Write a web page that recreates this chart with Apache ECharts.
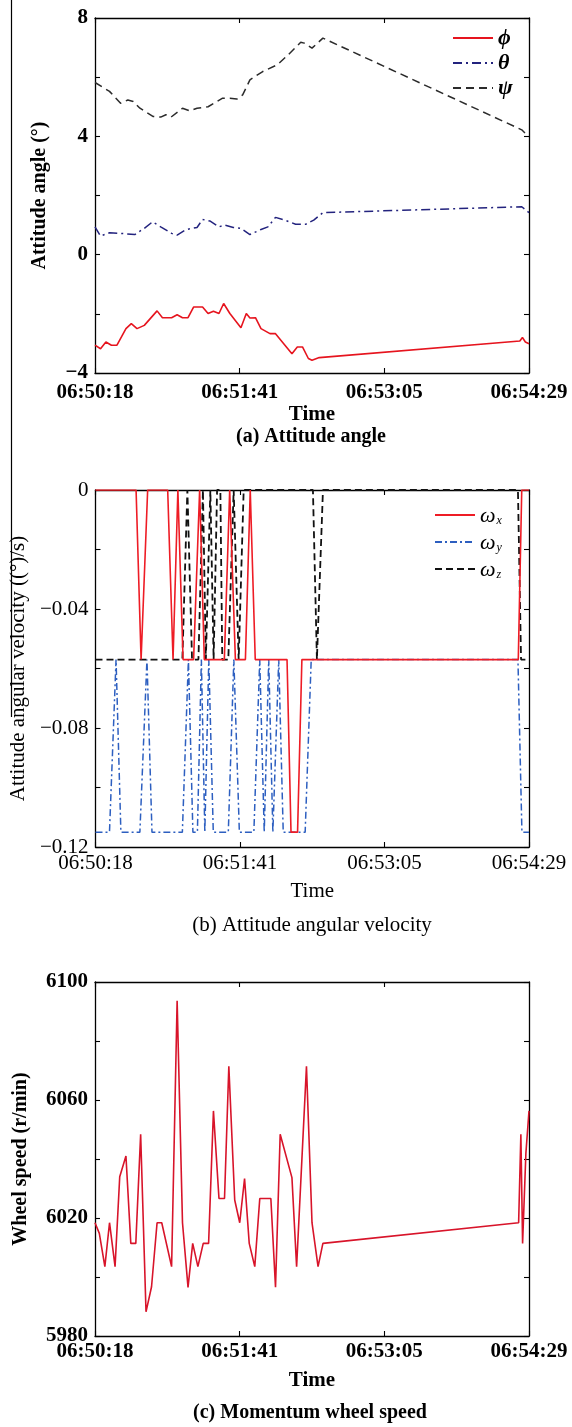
<!DOCTYPE html>
<html>
<head>
<meta charset="utf-8">
<script src="https://cdn.jsdelivr.net/npm/echarts@6/dist/echarts.min.js"></script>
<style>
html,body{margin:0;padding:0;background:#fff;}
#c{width:572px;height:1427px;}
</style>
</head>
<body>
<div id="c"></div>
<script>
// ---------- shared axis data ----------
const tMax = 251; // seconds from 06:50:18 to 06:54:29
const xTickLabels = ['06:50:18', '06:51:41', '06:53:05', '06:54:29'];

// ---------- (a) Attitude angle ----------
const yTicksA = [-4, 0, 4, 8];
const yLabelsA = ['−4', '0', '4', '8'];
const phiT = [0, 3.2, 6.3, 9.5, 12.7, 17.9, 21, 24.3, 28.5, 35.9, 39, 44.3, 47.5, 50.6, 53.8, 57, 62.2, 65.4, 68.5, 71.7, 74.4, 78, 84.4, 87.5, 89.6, 92.8, 96, 101.2, 104.4, 113.9, 117, 120, 123.4, 125.5, 129.7, 245.7, 247.2, 248.9, 251];
const phiV = [-3.06, -3.18, -2.95, -3.06, -3.06, -2.50, -2.33, -2.50, -2.39, -1.90, -2.13, -2.13, -2.03, -2.13, -2.13, -1.77, -1.77, -1.99, -1.91, -1.99, -1.65, -1.99, -2.47, -1.99, -2.14, -2.13, -2.50, -2.67, -2.67, -3.35, -3.12, -3.12, -3.51, -3.57, -3.48, -2.92, -2.80, -2.95, -3.01];
const thetaT = [0, 3.2, 8.4, 14.8, 23, 28.5, 33.3, 38, 44.3, 47.5, 52.7, 59, 62.2, 66.4, 71.7, 74.9, 80, 84.4, 89.6, 96, 100, 104.4, 109.7, 116, 122, 126.5, 131.8, 246.8, 251];
const thetaV = [0.94, 0.63, 0.74, 0.72, 0.68, 0.89, 1.11, 0.94, 0.72, 0.66, 0.85, 0.92, 1.19, 1.14, 0.94, 1.0, 0.92, 0.89, 0.68, 0.85, 0.94, 1.26, 1.17, 1.03, 1.03, 1.17, 1.42, 1.62, 1.42];
const psiT = [0, 8.4, 14.8, 19, 22.1, 26, 33.7, 38, 41, 44, 50.6, 54.8, 59, 65.4, 73.8, 78, 82, 85.4, 89.6, 97, 105.5, 111.8, 119, 121, 125.5, 131.8, 246.8, 248.9, 251];
const psiV = [5.82, 5.52, 5.12, 5.23, 5.18, 4.95, 4.67, 4.65, 4.73, 4.65, 4.95, 4.86, 4.95, 5.0, 5.29, 5.29, 5.26, 5.40, 5.91, 6.19, 6.42, 6.76, 7.18, 7.15, 6.98, 7.32, 4.22, 4.10, 4.05];

// ---------- (b) Attitude angular velocity ----------
const yTicksB = [-0.12, -0.08, -0.04, 0];
const yLabelsB = ['−0.12', '−0.08', '−0.04', '0'];
const wxT = [0, 23.5, 26.4, 30.2, 41.8, 44.9, 47.7, 50.7, 56.8, 60.3, 63.0, 74.6, 77.7, 81.0, 86.8, 89.6, 92.5, 110.9, 113.2, 117.0, 119.5, 244.8, 246.8, 251];
const wxV = [0, 0, -0.057, 0, 0, -0.057, 0, -0.057, -0.057, 0, -0.057, -0.057, 0, -0.057, -0.057, 0, -0.057, -0.057, -0.115, -0.115, -0.057, -0.057, 0, 0];
const wyT = [0, 8.1, 11.9, 14.7, 25.7, 29.8, 32.7, 50.3, 53.8, 56.4, 59.0, 61.3, 63.3, 65.6, 68.2, 76.9, 80.1, 83.3, 91.7, 95.1, 97.7, 100.3, 102.7, 106.1, 108.7, 121.4, 124.9, 244.6, 246.9, 251];
const wyV = [-0.115, -0.115, -0.057, -0.115, -0.115, -0.057, -0.115, -0.115, -0.057, -0.115, -0.115, -0.057, -0.115, -0.057, -0.115, -0.115, -0.057, -0.115, -0.115, -0.057, -0.115, -0.057, -0.115, -0.057, -0.115, -0.115, -0.057, -0.057, -0.115, -0.115];
const wzT = [0, 50.3, 53.2, 55.9, 59.6, 62.2, 63.9, 66.5, 68.4, 70.4, 72.3, 73.4, 76.9, 80.0, 82.9, 85.8, 125.9, 128.2, 131.7, 244.6, 246.4, 251];
const wzV = [-0.057, -0.057, 0, -0.057, -0.057, 0, -0.057, 0, -0.057, 0, 0, -0.057, -0.057, 0, -0.057, 0, 0, -0.057, 0, 0, -0.057, -0.057];

// ---------- (c) Momentum wheel speed ----------
const yTicksC = [5980, 6020, 6060, 6100];
const yLabelsC = ['5980', '6020', '6060', '6100'];
const wheelT = [0, 2.5, 5.7, 8.4, 11.6, 14.3, 17.9, 20.7, 23.6, 26.4, 29.5, 32.7, 35.9, 38.6, 44.3, 47.5, 50.6, 53.8, 56.5, 59.5, 62.6, 65.7, 68.5, 71.7, 74.9, 77.4, 80.8, 83.7, 86.5, 89.2, 92.4, 95.3, 101.7, 104.4, 107.1, 113.9, 116.6, 122.3, 125.5, 129, 131.8, 245, 246.3, 247.3, 249.2, 251];
const wheelV = [6018.4, 6014.8, 6003.5, 6018.4, 6003.5, 6034, 6041, 6011.4, 6011.4, 6048.4, 5988.2, 5996.7, 6018.4, 6018.4, 6003.5, 6093.6, 6018.4, 5996.5, 6011.4, 6003.5, 6011.4, 6011.4, 6056.3, 6026.6, 6026.6, 6071.4, 6026.1, 6018.4, 6033.4, 6011.4, 6003.5, 6026.6, 6026.6, 5996.5, 6048.4, 6033.7, 6003.5, 6071.4, 6018.4, 6003.5, 6011.4, 6018.4, 6048.4, 6011.4, 6041.9, 6056.3];

// ---------- helpers ----------
const FONT = '"Liberation Serif", "Times New Roman", "DejaVu Serif", serif';
const zip = (t, v) => t.map((x, i) => [x, v[i]]);
const pickLabel = (ticks, labels) => (v) => {
  for (let i = 0; i < ticks.length; i++) if (Math.abs(ticks[i] - v) < 1e-9) return labels[i];
  return '';
};

const grids = [
  { left: 95, right: 43, top: 18, height: 355 },
  { left: 95, right: 43, top: 490, height: 357 },
  { left: 95, right: 43, top: 982, height: 354 }
];

const axisLineStyle = { color: '#000', width: 1.3 };
const tickStyle = { color: '#000', width: 1.1 };

const panelCfg = [
  { yMin: -4, yMax: 8, yInt: 2, ticks: yTicksA, labels: yLabelsA, yName: 'Attitude angle (°)', yGap: 45, bold: 'bold', labelMargin: 9, xGap: 30, yNameSize: 20 },
  { yMin: -0.12, yMax: 0, yInt: 0.02, ticks: yTicksB, labels: yLabelsB, yName: 'Attitude angular velocity ((°)/s)', yGap: 66, bold: 'normal', labelMargin: 6, xGap: 34, yNameSize: 21 },
  { yMin: 5980, yMax: 6100, yInt: 20, ticks: yTicksC, labels: yLabelsC, yName: 'Wheel speed (r/min)', yGap: 64, bold: 'bold', labelMargin: 5, xGap: 34, yNameSize: 20 }
];

const xAxes = [], yAxes = [];
panelCfg.forEach((p, g) => {
  xAxes.push({
    type: 'value', gridIndex: g, position: 'bottom', min: 0, max: tMax, interval: tMax / 3,
    axisLine: { show: true, onZero: false, lineStyle: axisLineStyle },
    axisTick: { show: true, inside: true, length: 5, lineStyle: tickStyle },
    axisLabel: {
      show: true, showMinLabel: true, showMaxLabel: true, margin: p.labelMargin,
      formatter: (v) => xTickLabels[Math.round(v / (tMax / 3))],
      fontFamily: FONT, fontSize: 21, color: '#000', fontWeight: p.bold
    },
    splitLine: { show: false },
    name: 'Time', nameLocation: 'middle', nameGap: p.xGap,
    nameTextStyle: { fontFamily: FONT, fontSize: 21, color: '#000', fontWeight: p.bold }
  });
  xAxes.push({
    type: 'value', gridIndex: g, position: 'top', min: 0, max: tMax, interval: tMax / 3,
    axisLine: { show: true, onZero: false, lineStyle: axisLineStyle },
    axisTick: { show: true, inside: true, length: 5, lineStyle: tickStyle },
    axisLabel: { show: false }, splitLine: { show: false }
  });
  yAxes.push({
    type: 'value', gridIndex: g, position: 'left', min: p.yMin, max: p.yMax, interval: p.yInt,
    axisLine: { show: true, onZero: false, lineStyle: axisLineStyle },
    axisTick: { show: true, inside: true, length: 5, lineStyle: tickStyle },
    axisLabel: {
      show: true, margin: 7, formatter: pickLabel(p.ticks, p.labels),
      fontFamily: FONT, fontSize: 21, color: '#000', fontWeight: p.bold
    },
    splitLine: { show: false },
    name: p.yName, nameLocation: 'middle', nameGap: p.yGap,
    nameTextStyle: { fontFamily: FONT, fontSize: p.yNameSize, color: '#000', fontWeight: p.bold }
  });
  yAxes.push({
    type: 'value', gridIndex: g, position: 'right', min: p.yMin, max: p.yMax, interval: p.yInt,
    axisLine: { show: true, onZero: false, lineStyle: axisLineStyle },
    axisTick: { show: true, inside: true, length: 5, lineStyle: tickStyle },
    axisLabel: { show: false }, splitLine: { show: false }
  });
});

function line(name, g, data, color, width, dash, z) {
  return {
    type: 'line', name: name, xAxisIndex: 2 * g, yAxisIndex: 2 * g, data: data,
    symbol: 'none', animation: false, z: z || 2,
    lineStyle: { color: color, width: width, type: dash || 'solid' },
    itemStyle: { color: color }
  };
}

const series = [
  line('ψ', 0, zip(psiT, psiV), '#2b2b2b', 1.5, [8, 5]),
  line('θ', 0, zip(thetaT, thetaV), '#23237e', 1.5, [9, 4, 2, 4]),
  line('ϕ', 0, zip(phiT, phiV), '#e6141e', 1.6),
  line('ω_z', 1, zip(wzT, wzV), '#111111', 1.8, [7, 4], 3),
  line('ω_y', 1, zip(wyT, wyV), '#2d5fc0', 1.5, [7, 3, 2, 3], 2),
  line('ω_x', 1, zip(wxT, wxV), '#ee1c25', 1.6, 'solid', 4),
  line('speed', 2, zip(wheelT, wheelV), '#d8142a', 1.6)
];

const option = {
  backgroundColor: '#fff',
  animation: false,
  grid: grids,
  xAxis: xAxes,
  yAxis: yAxes,
  series: series,
  legend: [
    {
      data: ['ϕ', 'θ', 'ψ'], orient: 'vertical', left: 447, top: 22,
      itemWidth: 40, itemHeight: 14, itemGap: 3,
      itemStyle: { opacity: 0, borderWidth: 0 },
      textStyle: { fontFamily: FONT, fontSize: 22, fontStyle: 'italic', fontWeight: 'bold', color: '#000', lineHeight: 20 }
    },
    {
      data: ['ω_x', 'ω_y', 'ω_z'], orient: 'vertical', left: 429, top: 500,
      itemWidth: 40, itemHeight: 14, itemGap: 5,
      itemStyle: { opacity: 0, borderWidth: 0 },
      formatter: (n) => '{w|ω}{s|' + n.split('_')[1] + '}',
      textStyle: {
        color: '#000',
        rich: {
          w: { fontFamily: FONT, fontSize: 22, fontStyle: 'italic', color: '#000', lineHeight: 24, verticalAlign: 'bottom' },
          s: { fontFamily: FONT, fontSize: 12, fontStyle: 'italic', color: '#000', lineHeight: 24, verticalAlign: 'bottom', padding: [8, 0, 0, 1] }
        }
      }
    }
  ],
  graphic: [
    { type: 'line', shape: { x1: 11.5, y1: 0, x2: 11.5, y2: 717 }, style: { stroke: '#000', lineWidth: 1.2 } },
    { type: 'text', x: 311, y: 437, style: { text: '(a) Attitude angle', font: 'bold 20px ' + FONT, fill: '#000', textAlign: 'center', textVerticalAlign: 'middle' } },
    { type: 'text', x: 312, y: 925, style: { text: '(b) Attitude angular velocity', font: '21px ' + FONT, fill: '#000', textAlign: 'center', textVerticalAlign: 'middle' } },
    { type: 'text', x: 310, y: 1413, style: { text: '(c) Momentum wheel speed', font: 'bold 20px ' + FONT, fill: '#000', textAlign: 'center', textVerticalAlign: 'middle' } }
  ]
};

const chart = echarts.init(document.getElementById('c'), null, { renderer: 'canvas' });
chart.setOption(option);
</script>
</body>
</html>
